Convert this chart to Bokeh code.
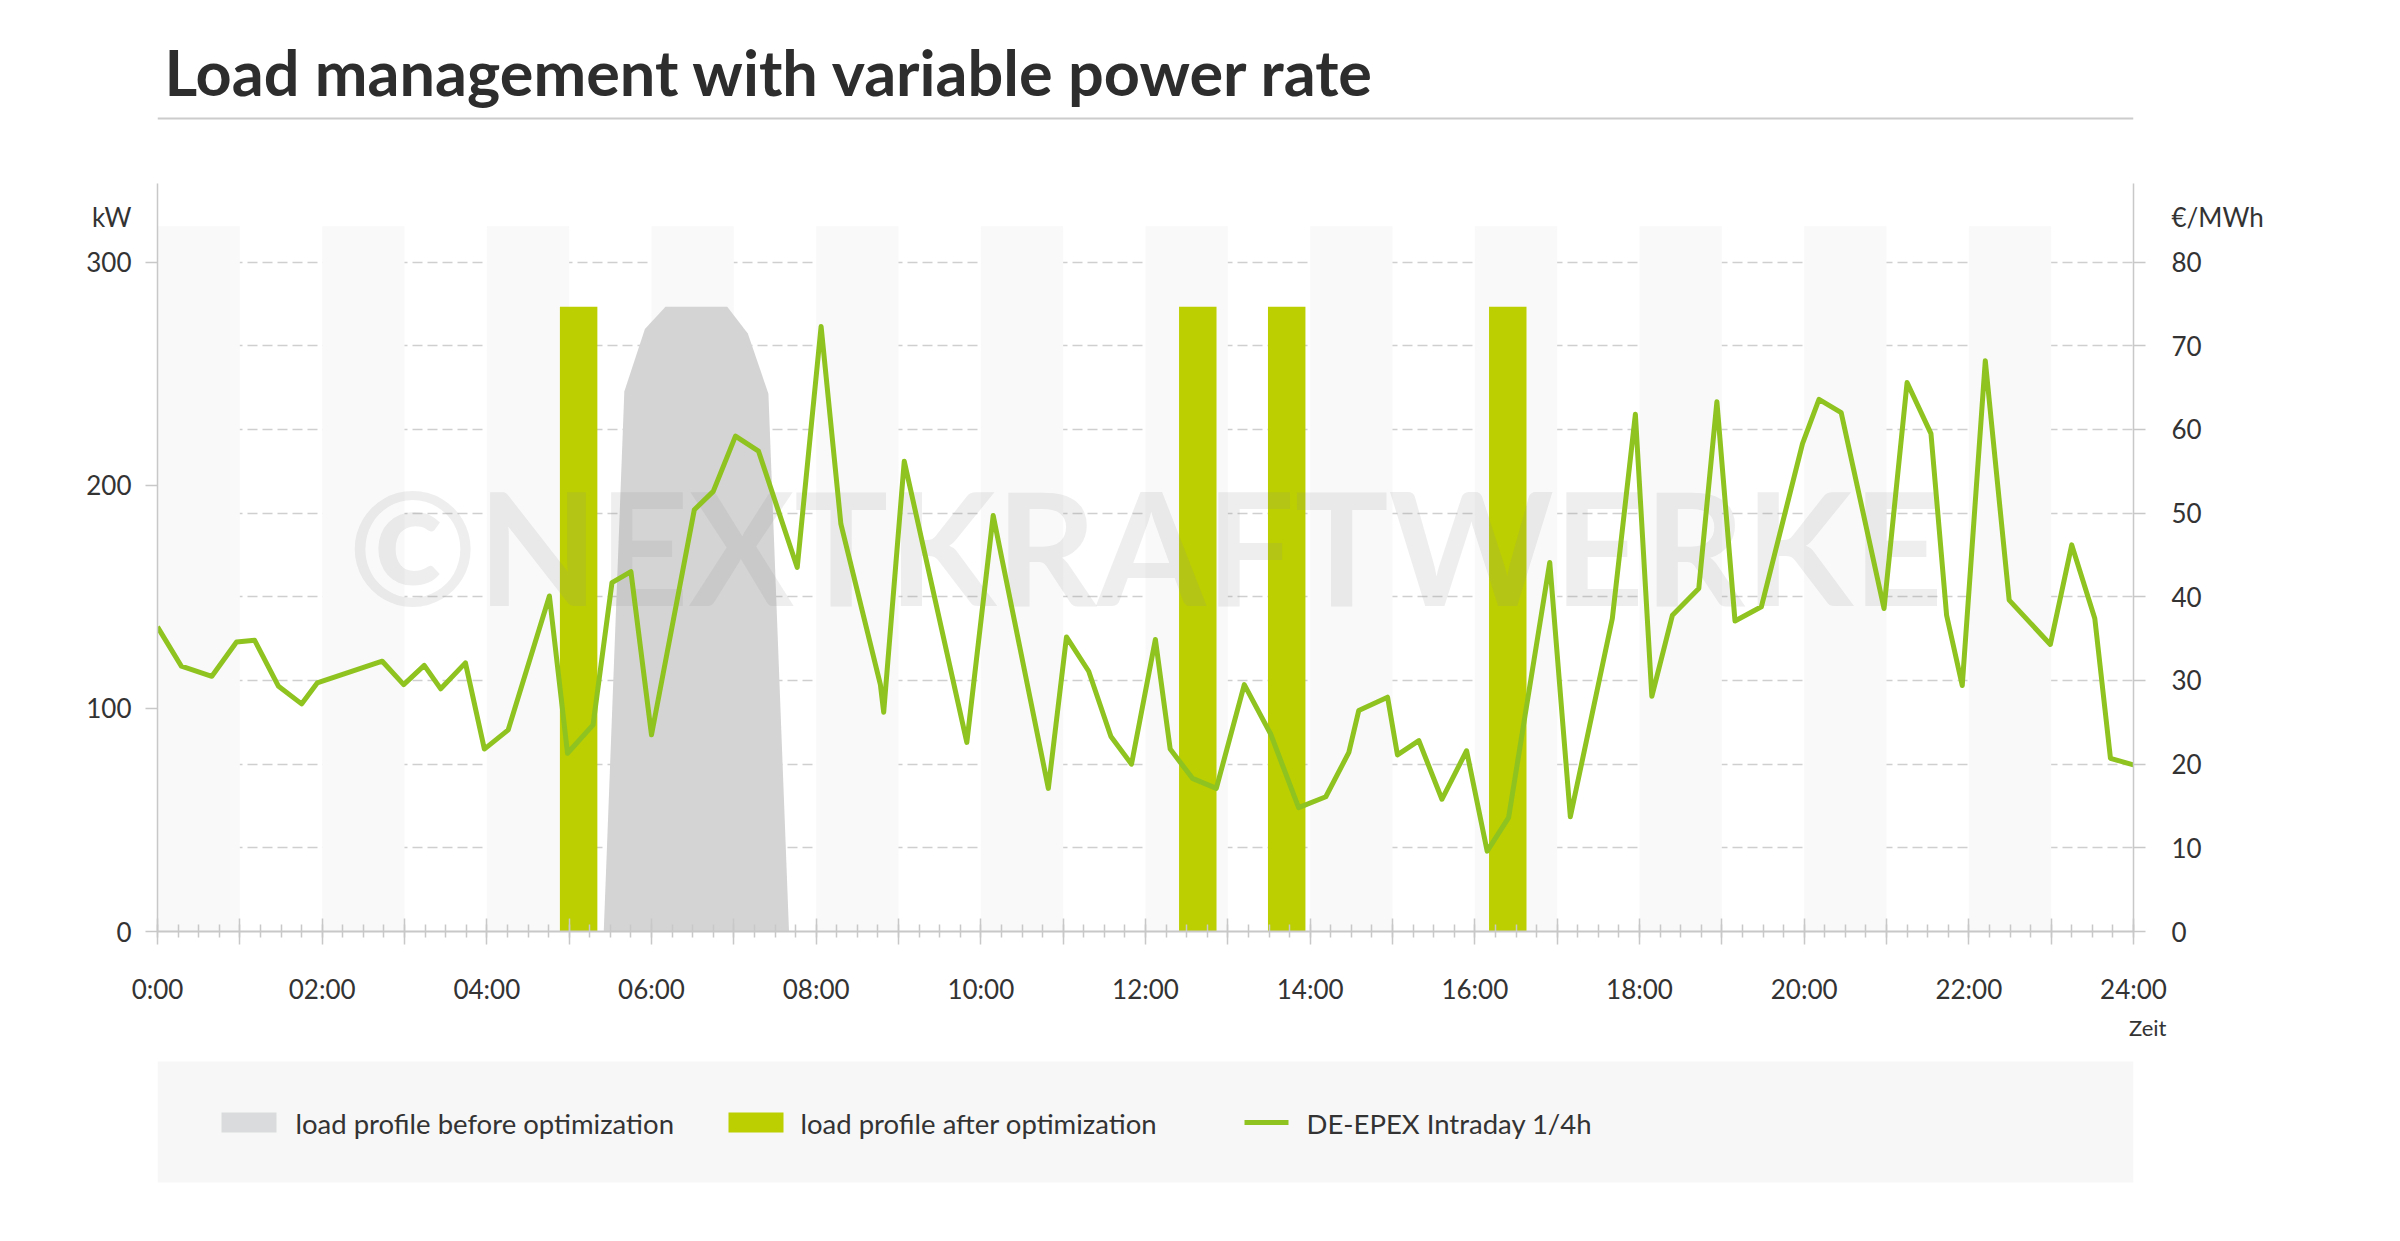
from bokeh.plotting import figure
from bokeh.models import Range1d, LinearAxis, FixedTicker, Grid, Title
from bokeh.layouts import column
from bokeh.embed import file_html
from bokeh.resources import INLINE
from bokeh.core.properties import value

# ---------------- data ----------------
title_text = "Load management with variable power rate"
y_left_ticks = [0, 100, 200, 300]
y_right_ticks = [0, 10, 20, 30, 40, 50, 60, 70, 80]
x_label_hours = list(range(0, 25, 2))
x_labels = ["0:00", "02:00", "04:00", "06:00", "08:00", "10:00", "12:00",
            "14:00", "16:00", "18:00", "20:00", "22:00", "24:00"]
unit_left = "kW"
unit_left_at = 320
unit_right = "\u20ac/MWh"
unit_right_at = 85.33
x_title = "Zeit"
watermark = "\u00a9NEXTKRAFTWERKE"
legend_labels = ["load profile before optimization", "load profile after optimization",
                 "DE-EPEX Intraday 1/4h"]

# load profile before optimization (kW)
before_hours = [5.42, 5.67, 5.92, 6.17, 6.42, 6.67, 6.92, 7.17, 7.42, 7.67]
before_kw = [0, 242, 270, 280, 280, 280, 280, 268, 241, 0]

# load profile after optimization (kW), bars
after_hours = [5.115, 12.635, 13.715, 16.40]
after_kw = [280, 280, 280, 280]

# DE-EPEX Intraday 1/4h (EUR/MWh)
epex_hours = [0.0, 0.29, 0.66, 0.96, 1.18, 1.47, 1.75, 1.94, 2.73, 2.99, 3.24, 3.44,
              3.74, 3.97, 4.26, 4.76, 4.98, 5.29, 5.52, 5.75, 6.0, 6.52, 6.75, 7.02,
              7.30, 7.77, 8.06, 8.30, 8.78, 8.82, 9.07, 9.83, 10.15, 10.82, 11.04,
              11.31, 11.58, 11.83, 12.12, 12.30, 12.57, 12.86, 13.20, 13.52, 13.86,
              14.19, 14.47, 14.59, 14.94, 15.06, 15.32, 15.60, 15.90, 16.15, 16.41,
              16.91, 17.16, 17.67, 17.95, 18.15, 18.40, 18.72, 18.94, 19.16, 19.48,
              19.98, 20.18, 20.45, 20.97, 21.25, 21.54, 21.73, 21.92, 22.20, 22.49,
              22.99, 23.25, 23.53, 23.72, 24.0]
epex_price = [36.4, 31.7, 30.5, 34.6, 34.8, 29.3, 27.2, 29.7, 32.3, 29.5, 31.8, 29.0,
              32.1, 21.8, 24.1, 40.1, 21.3, 24.7, 41.7, 43.0, 23.5, 50.4, 52.6, 59.2,
              57.4, 43.5, 72.3, 48.7, 29.5, 26.2, 56.2, 22.6, 49.7, 17.1, 35.2,
              31.1, 23.3, 20.0, 34.9, 21.8, 18.3, 17.1, 29.5, 23.6, 14.8,
              16.1, 21.4, 26.4, 28.0, 21.1, 22.8, 15.8, 21.6, 9.6, 13.6,
              44.1, 13.7, 37.4, 61.8, 28.1, 37.8, 41.0, 63.3, 37.1, 38.8,
              58.3, 63.6, 62.0, 38.6, 65.6, 59.5, 37.8, 29.4, 68.2, 39.6,
              34.3, 46.2, 37.4, 20.7, 19.9]

# ---------------- style ----------------
FONT = "Lato"
TXT = "#333333"
AXC = "#c8c8c8"
GRAY_AREA = "#d4d4d4"
BAR_GREEN = "#bccf00"
LINE_GREEN = "#8fc31f"
W = 2392
BL, BR = 157, 259          # left / right borders shared by all three figures
FX0, FX1 = BL, W - BR      # frame extent in figure pixels


def blank_fig(h):
    f = figure(width=W, height=h, x_range=Range1d(FX0, FX1), y_range=Range1d(h, 0),
               x_axis_type=None, y_axis_type=None, toolbar_location=None,
               output_backend="svg", min_border_left=BL, min_border_right=BR,
               min_border_top=0, min_border_bottom=0, outline_line_color=None)
    f.grid.visible = False
    return f


# ---------------- title figure ----------------
pa = blank_fig(168)
pa.text(x=[164], y=[71], text=[title_text], text_font=value(FONT), text_font_style="bold",
        text_font_size="63px", text_color="#2d2d2d", text_baseline="middle")
pa.segment(x0=[FX0], y0=[118], x1=[FX1], y1=[118], line_color="#cccccc", line_width=2)

# ---------------- main figure ----------------
YMAX = 335.2
RATIO = 300 / 80
pb = figure(width=W, height=876, x_range=Range1d(0, 24), y_range=Range1d(0, YMAX),
            toolbar_location=None, output_backend="svg",
            min_border_left=BL, min_border_right=BR, min_border_top=15, min_border_bottom=110,
            outline_line_color=None)
pb.extra_y_ranges = {"price": Range1d(0, YMAX / RATIO)}
pb.xgrid.visible = False
pb.ygrid.visible = False

# alternating hour bands
band_left = list(range(0, 24, 2))
pb.quad(left=band_left, right=[b + 1 for b in band_left], bottom=0, top=316,
        fill_color="#f9f9f9", line_color=None)

# dashed grid from right axis
g = Grid(dimension=1, ticker=FixedTicker(ticks=y_right_ticks[1:]), y_range_name="price",
         grid_line_color="#cfcfcf", grid_line_dash="10 5", grid_line_width=1.5)
pb.add_layout(g)

# area: before optimization
pb.varea(x=before_hours, y1=0, y2=before_kw, fill_color=GRAY_AREA)

# bars: after optimization
pb.vbar(x=after_hours, top=after_kw, bottom=0, width=0.455, fill_color=BAR_GREEN, line_color=None)

# watermark
pb.text(x=[12], y=[173], text=[watermark], text_font=value(FONT), text_font_style="bold",
        text_font_size="157px", text_color="#8a8a8a", text_alpha=0.15,
        text_align="center", text_baseline="middle")

# price line
pb.line(x=epex_hours, y=epex_price, y_range_name="price", line_color=LINE_GREEN,
        line_width=5, line_join="round")

# x axis
xa = pb.xaxis[0]
xa.ticker = FixedTicker(ticks=list(range(25)), minor_ticks=[q / 4 for q in range(97)])
xa.major_label_overrides = {h: "" for h in range(25)}
xa.major_label_overrides.update({h: lab for h, lab in zip(x_label_hours, x_labels)})
xa.axis_line_color = AXC
xa.axis_line_width = 2
xa.major_tick_line_color = AXC
xa.major_tick_line_width = 1.5
xa.major_tick_in = 13
xa.major_tick_out = 13
xa.minor_tick_line_color = AXC
xa.minor_tick_line_width = 1.5
xa.minor_tick_in = 7
xa.minor_tick_out = 6
xa.major_label_text_font = FONT
xa.major_label_text_font_size = "26px"
xa.major_label_text_color = TXT
xa.major_label_standoff = 28


def style_y(ax, ticks, unit, unit_at, standoff):
    ax.ticker = FixedTicker(ticks=ticks + [unit_at], minor_ticks=ticks)
    ax.major_label_overrides = {unit_at: unit}
    ax.axis_line_color = AXC
    ax.axis_line_width = 1.5
    ax.major_tick_line_color = None
    ax.major_tick_in = 0
    ax.major_tick_out = 12
    ax.minor_tick_line_color = AXC
    ax.minor_tick_line_width = 1.5
    ax.minor_tick_in = 0
    ax.minor_tick_out = 12
    ax.major_label_text_font = FONT
    ax.major_label_text_font_size = "26px"
    ax.major_label_text_color = TXT
    ax.major_label_standoff = standoff


style_y(pb.yaxis[0], y_left_ticks, unit_left, unit_left_at, 14)
yr = LinearAxis(y_range_name="price")
style_y(yr, y_right_ticks, unit_right, unit_right_at, 26)
pb.add_layout(yr, "right")

pb.add_layout(Title(text=x_title, align="right", offset=-33, text_font=FONT,
                    text_font_size="22px", text_font_style="normal", text_color=TXT,
                    standoff=8), "below")

# ---------------- legend figure ----------------
pc = blank_fig(180)
pc.quad(left=[FX0], right=[FX1], top=[17], bottom=[138], fill_color="#f7f7f7", line_color=None)
pc.quad(left=[221], right=[276], top=[68], bottom=[88], fill_color="#dadbdc", line_color=None)
pc.quad(left=[728], right=[783], top=[68], bottom=[88], fill_color=BAR_GREEN, line_color=None)
pc.segment(x0=[1244], y0=[78], x1=[1288], y1=[78], line_color=LINE_GREEN, line_width=5)
pc.text(x=[295, 800, 1306], y=[79, 79, 79], text=legend_labels, text_font=value(FONT),
        text_font_size="27.5px", text_color=TXT, text_baseline="middle")

layout = column(pa, pb, pc, spacing=0)
open("out.html", "w").write(file_html(layout, INLINE))
